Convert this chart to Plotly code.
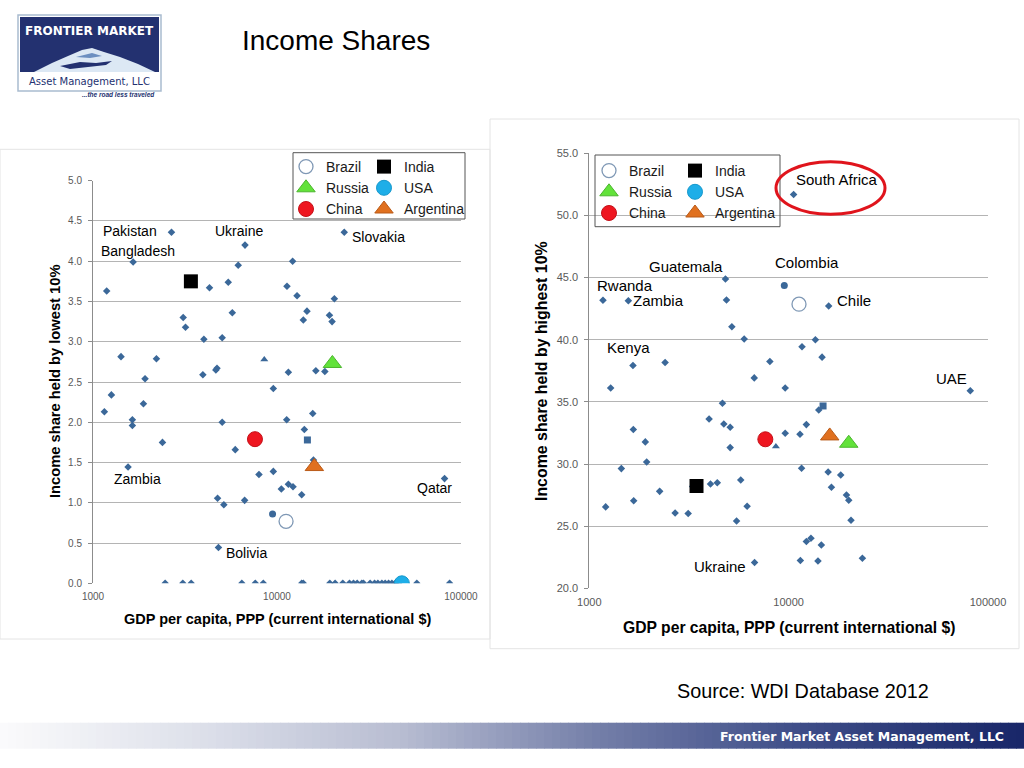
import math
import plotly.graph_objects as go

W, H = 1024, 768
FONT = "Liberation Sans"

# ---------------- DATA ----------------
# Left chart: income share held by lowest 10%
left_other_gdp = [1187, 4297, 5433, 6155, 12160, 11330, 12850, 20500, 14550, 13900, 19280, 19920,
                  5716, 3092, 3183, 4005, 5036, 1420, 2212, 1918, 3955, 4653, 4720, 11530, 16260,
                  18200, 1259, 1153, 1880, 1637, 1637, 2385, 9550, 5036, 11290, 15640, 14080, 5930,
                  15780, 7980, 9550, 10560, 11530, 12220, 13620, 4753, 5142, 6670,
                  2467, 3076, 3417, 6440, 7620, 8425, 13620, 13900, 19360, 20700, 22780, 24770,
                  26040, 27270, 28900, 29520, 32080, 33900, 35330, 37150, 38730, 40390, 42100,
                  43900, 45780, 57540, 86700]
left_other_low = [3.63, 3.67, 3.74, 3.95, 4.00, 3.69, 3.57, 3.535, 3.38, 3.27, 3.33, 3.25,
                  3.36, 3.30, 3.18, 3.03, 3.05, 2.815, 2.79, 2.54, 2.59, 2.65, 2.67, 2.62, 2.64,
                  2.63, 2.34, 2.13, 2.23, 2.03, 1.96, 1.75, 2.42, 2.00, 2.03, 2.11, 1.91, 1.66,
                  1.53, 1.35, 1.39, 1.17, 1.23, 1.20, 1.10, 1.055, 0.976, 1.03,
                  0.0, 0.0, 0.0, 0.0, 0.0, 0.0, 0.0, 0.0, 0.0, 0.0, 0.0, 0.0,
                  0.0, 0.0, 0.0, 0.0, 0.0, 0.0, 0.0, 0.0, 0.0, 0.0, 0.0,
                  0.0, 0.0, 0.0, 0.0]
left_named = ["Pakistan", "Bangladesh", "Ukraine", "Slovakia", "Zambia", "Qatar", "Bolivia"]
left_named_gdp = [2670, 1652, 6700, 23200, 1551, 81400, 4807]
left_named_low = [4.36, 3.99, 4.20, 4.36, 1.445, 1.30, 0.444]
left_extra_tri_gdp, left_extra_tri_low = [8530], [2.78]
left_extra_sq_gdp, left_extra_sq_low = [14630], [1.78]
left_extra_circ_gdp, left_extra_circ_low = [9460], [0.86]

# Right chart: income share held by highest 10%
right_other_gdp = [4877, 5190, 5985, 13620, 11670, 14710, 2400, 8050, 6720, 1280, 9610, 4656,
                   14160, 3990, 4730, 5090, 12270, 9610, 11400, 5090, 1663, 1910, 1940, 1448,
                   11610, 15780, 18250, 16390, 19500, 20020, 20550, 5750, 4385, 4055, 3300, 2254,
                   1670, 1208, 2695, 3133, 6190, 5480, 12940, 12270, 14590, 11450, 14030, 23440]
right_other_high = [43.2, 41.05, 40.06, 40.0, 39.44, 38.6, 38.17, 38.25, 36.93, 36.12, 36.12, 34.89,
                    34.35, 33.63, 33.22, 32.96, 33.17, 32.47, 32.39, 31.32, 32.77, 31.78, 30.17, 29.63,
                    29.66, 29.36, 29.12, 28.13, 27.51, 27.08, 25.47, 28.72, 28.5, 28.4, 28.2, 27.8,
                    27.05, 26.55, 26.06, 26.01, 26.6, 25.42, 24.02, 23.76, 23.49, 22.23, 22.2, 22.41]
right_named = ["South Africa", "Guatemala", "Rwanda", "Zambia", "Chile", "Kenya", "UAE", "Ukraine"]
right_named_gdp = [10590, 4820, 1171, 1570, 15880, 1656, 81500, 6745]
right_named_high = [51.69, 44.88, 43.18, 43.13, 42.72, 37.93, 35.9, 22.07]
right_colombia_gdp, right_colombia_high = [9510], [44.36]
right_extra_tri_gdp, right_extra_tri_high = [8630], [31.4]
right_extra_sq_gdp, right_extra_sq_high = [14880], [34.67]

# Highlighted countries (GDP, left value, right value)
hl_names = ["Brazil", "Russia", "China", "India", "USA", "Argentina"]
hl_gdp_left = [11200, 20000, 7590, 3404, 47700, 15960]
hl_low = [0.77, 2.73, 1.79, 3.75, 0.0, 1.45]
hl_gdp_right = [11270, 20020, 7640, 3450, None, 16070]
hl_high = [42.86, 31.67, 31.99, 28.23, None, 32.26]

x_tickvals = [1000, 10000, 100000]
x_ticktext = ["1000", "10000", "100000"]

# ---------------- STYLE ----------------
DIAM = "#3B6899"
hl_style = {
    "Brazil": dict(symbol="circle", color="white", line=dict(color="#7F98B5", width=1.3), size=14),
    "Russia": dict(symbol="triangle-up", color="#62E23A", line=dict(color="#4BB52E", width=1), size=16),
    "China": dict(symbol="circle", color="#EE1620", line=dict(color="#C41018", width=1), size=15),
    "India": dict(symbol="square", color="black", line=dict(color="black", width=0), size=14),
    "USA": dict(symbol="circle", color="#1EAEE8", line=dict(color="#1698CC", width=1), size=15),
    "Argentina": dict(symbol="triangle-up", color="#E0701F", line=dict(color="#B95A18", width=1), size=16),
}
legend_col = {"Brazil": 0, "Russia": 0, "China": 0, "India": 1, "USA": 1, "Argentina": 1}

def px(x):
    return x / W

def py(y):
    return 1 - y / H

fig = go.Figure()

def pts(x, y, sym, size, xa, ya):
    fig.add_trace(go.Scatter(x=x, y=y, mode="markers",
                             marker=dict(symbol=sym, size=size, color=DIAM, line=dict(width=0)),
                             showlegend=False, xaxis=xa, yaxis=ya))

pts(left_other_gdp, left_other_low, "diamond", 5.8, "x", "y")
pts(left_named_gdp, left_named_low, "diamond", 5.8, "x", "y")
pts(left_extra_tri_gdp, left_extra_tri_low, "triangle-up", 7, "x", "y")
pts(left_extra_sq_gdp, left_extra_sq_low, "square", 7, "x", "y")
pts(left_extra_circ_gdp, left_extra_circ_low, "circle", 7, "x", "y")
for i, n in enumerate(hl_names):
    st = hl_style[n]
    fig.add_trace(go.Scatter(x=[hl_gdp_left[i]], y=[hl_low[i]], mode="markers", name=n,
                             marker=dict(symbol=st["symbol"], size=st["size"], color=st["color"], line=st["line"]),
                             legend="legend" if legend_col[n] == 0 else "legend2",
                             xaxis="x", yaxis="y"))

pts(right_other_gdp, right_other_high, "diamond", 5.8, "x2", "y2")
pts(right_named_gdp, right_named_high, "diamond", 5.8, "x2", "y2")
pts(right_colombia_gdp, right_colombia_high, "circle", 7, "x2", "y2")
pts(right_extra_tri_gdp, right_extra_tri_high, "triangle-up", 7, "x2", "y2")
pts(right_extra_sq_gdp, right_extra_sq_high, "square", 7, "x2", "y2")
for i, n in enumerate(hl_names):
    st = hl_style[n]
    fig.add_trace(go.Scatter(x=[hl_gdp_right[i]], y=[hl_high[i]], mode="markers", name=n,
                             marker=dict(symbol=st["symbol"], size=st["size"], color=st["color"], line=st["line"]),
                             legend="legend3" if legend_col[n] == 0 else "legend4",
                             xaxis="x2", yaxis="y2"))

# ---------------- AXES ----------------
GRID = "#B4B4B4"
AXL = "#8C8C8C"
TICKC = "#595959"

def xax(domain, fs):
    return dict(type="log", range=[3, 5], domain=domain, tickvals=x_tickvals, ticktext=x_ticktext,
                showgrid=False, showline=False, zeroline=False, ticks="", automargin=False,
                tickfont=dict(family=FONT, size=fs, color=TICKC), ticklabelstandoff=6, fixedrange=True)

def yax(domain, rng, dt, fs, anchor):
    return dict(range=rng, domain=domain, dtick=dt, tickformat=".1f", showgrid=True, gridcolor=GRID,
                gridwidth=1, showline=True, linecolor=AXL, linewidth=1, ticks="outside", ticklen=4,
                tickcolor=AXL, zeroline=False, anchor=anchor, automargin=False,
                tickfont=dict(family=FONT, size=fs, color=TICKC), ticklabelstandoff=4, fixedrange=True)

fig.update_layout(
    xaxis=dict(**xax([px(93), px(461)], 10), anchor="y"),
    yaxis=yax([py(583.3), py(180.7)], [0, 5], 0.5, 10, "x"),
    xaxis2=dict(**xax([px(589.3), px(988)], 11), anchor="y2"),
    yaxis2=yax([py(588.3), py(153.3)], [20, 55], 5, 11, "x2"),
)

# ---------------- LEGENDS ----------------
def leg(xp, yp):
    return dict(x=px(xp), y=py(yp), xanchor="left", yanchor="top", bgcolor="rgba(0,0,0,0)",
                borderwidth=0, font=dict(family=FONT, size=14, color="#1a1a1a"),
                itemwidth=30, tracegroupgap=0, itemclick=False, itemdoubleclick=False)

fig.update_layout(legend=leg(286, 151), legend2=leg(364, 151),
                  legend3=leg(589, 155), legend4=leg(675, 155))

# ---------------- SHAPES ----------------
shapes = []
shapes.append(dict(type="rect", xref="paper", yref="paper", x0=px(0), x1=px(490), y0=py(639), y1=py(149.3),
                   line=dict(color="#E4E4E4", width=1), layer="below"))
shapes.append(dict(type="rect", xref="paper", yref="paper", x0=px(490), x1=px(1019), y0=py(648.7), y1=py(119),
                   line=dict(color="#E4E4E4", width=1), layer="below"))
shapes.append(dict(type="rect", xref="paper", yref="paper", x0=px(293), x1=px(465), y0=py(219), y1=py(152.7),
                   line=dict(color="#555555", width=1)))
shapes.append(dict(type="rect", xref="paper", yref="paper", x0=px(595), x1=px(780), y0=py(226.7), y1=py(155),
                   line=dict(color="#555555", width=1)))
shapes.append(dict(type="circle", xref="paper", yref="paper", x0=px(776), x1=px(885), y0=py(214.3), y1=py(161.7),
                   line=dict(color="#E0141C", width=3)))

stops = [(0, (251, 251, 252)), (200, (221, 224, 234)), (400, (184, 189, 210)), (600, (115, 126, 168)),
         (800, (62, 77, 136)), (1024, (24, 38, 104))]

def col_at(x):
    for (x0, c0), (x1, c1) in zip(stops[:-1], stops[1:]):
        if x0 <= x <= x1:
            t = (x - x0) / (x1 - x0)
            return "rgb(%d,%d,%d)" % tuple(round(a + (b - a) * t) for a, b in zip(c0, c1))
    return "rgb(%d,%d,%d)" % stops[-1][1]

nstrip = 128
for i in range(nstrip):
    x0 = i * W / nstrip
    x1 = (i + 1) * W / nstrip + 0.6
    shapes.append(dict(type="rect", xref="paper", yref="paper", x0=px(x0), x1=px(min(x1, W)),
                       y0=py(748.7), y1=py(722.7), line=dict(width=0),
                       fillcolor=col_at((x0 + x1) / 2), layer="below"))

NAVY = "#233170"
shapes.append(dict(type="rect", xref="paper", yref="paper", x0=px(18), x1=px(161), y0=py(91), y1=py(15),
                   line=dict(color="#A9BCD0", width=1.5), fillcolor="white"))
shapes.append(dict(type="rect", xref="paper", yref="paper", x0=px(20), x1=px(159), y0=py(72), y1=py(17),
                   line=dict(width=0), fillcolor=NAVY))

def path(p):
    return "M " + " L ".join("%f,%f" % (px(a), py(b)) for a, b in p) + " Z"

shapes.append(dict(type="path", xref="paper", yref="paper",
                   path=path([(34, 72), (52, 63), (68, 56), (82, 50), (92, 48), (104, 52), (120, 57),
                              (138, 64), (155, 72)]),
                   line=dict(width=0), fillcolor="#DCE8F4"))
shapes.append(dict(type="path", xref="paper", yref="paper",
                   path=path([(60, 66), (80, 62), (96, 63), (112, 61), (106, 65), (88, 67), (70, 69)]),
                   line=dict(width=0), fillcolor=NAVY))
shapes.append(dict(type="path", xref="paper", yref="paper",
                   path=path([(76, 57), (92, 53), (102, 56), (90, 58)]),
                   line=dict(width=0), fillcolor="#6C8FC0"))

fig.update_layout(shapes=shapes)

# ---------------- ANNOTATIONS ----------------
ann = []

def text(x, y, t, size, color="black", bold=False, xanchor="center", family=FONT, italic=False, angle=0):
    s = t
    if bold:
        s = "<b>%s</b>" % s
    if italic:
        s = "<i>%s</i>" % s
    ann.append(dict(x=px(x), y=py(y), xref="paper", yref="paper", text=s, showarrow=False,
                    xanchor=xanchor, yanchor="middle", textangle=angle,
                    font=dict(family=family, size=size, color=color)))

text(240, 40, "Income Shares", 28, "black", xanchor="left")
text(675, 691, "Source: WDI Database 2012", 19.8, "black", xanchor="left")
text(1006, 736, "Frontier Market Asset Management, LLC", 12.5, "white", bold=True, xanchor="right",
     family="DejaVu Sans")
text(89.5, 31, "FRONTIER MARKET", 12, "white", bold=True, family="DejaVu Sans")
text(89.5, 81, "Asset Management, LLC", 10, NAVY, family="DejaVu Sans")
text(157, 95, "...the road less traveled", 6.5, NAVY, italic=True, xanchor="right", bold=True)

text(277, 619, "GDP per capita, PPP (current international $)", 14.5, "black", bold=True)
text(789, 627, "GDP per capita, PPP (current international $)", 15.7, "black", bold=True)
text(55, 382, "Income share held by lowest 10%", 14.7, "black", bold=True, angle=-90)
text(541, 371, "Income share held by highest 10%", 15.9, "black", bold=True, angle=-90)

left_label_off = {"Pakistan": ("right", -12, 1), "Bangladesh": ("center", 5, 11),
                  "Ukraine": ("center", -6, 14), "Slovakia": ("left", 6, -5),
                  "Zambia": ("center", 9, -12), "Qatar": ("center", -10, -9),
                  "Bolivia": ("left", 6, -5)}
for n, g, v in zip(left_named, left_named_gdp, left_named_low):
    xa, dx, dy = left_label_off[n]
    ann.append(dict(x=math.log10(g), y=v, xref="x", yref="y", text=n, showarrow=False,
                    xanchor=xa, yanchor="middle", xshift=dx, yshift=dy,
                    font=dict(family=FONT, size=14, color="black")))

right_label_off = {"South Africa": ("left", 0, 15), "Guatemala": ("right", 0, 13),
                   "Rwanda": ("center", 22, 15),
                   "Zambia": ("left", 3, 0), "Chile": ("left", 6, 5), "Kenya": ("center", -4, 18),
                   "UAE": ("right", -1, 12), "Ukraine": ("right", -7, -4)}
for n, g, v in zip(right_named, right_named_gdp, right_named_high):
    xa, dx, dy = right_label_off[n]
    ann.append(dict(x=math.log10(g), y=v, xref="x2", yref="y2", text=n, showarrow=False,
                    xanchor=xa, yanchor="middle", xshift=dx, yshift=dy,
                    font=dict(family=FONT, size=15, color="black")))
ann.append(dict(x=math.log10(right_colombia_gdp[0]), y=right_colombia_high[0], xref="x2", yref="y2",
                text="Colombia", showarrow=False, xanchor="center", yanchor="middle", xshift=23, yshift=23,
                font=dict(family=FONT, size=15, color="black")))

fig.update_layout(annotations=ann)

fig.update_layout(width=W, height=H, margin=dict(l=0, r=0, t=0, b=0, pad=0, autoexpand=False),
                  paper_bgcolor="white", plot_bgcolor="white", hovermode=False,
                  font=dict(family=FONT))

fig.write_html("out.html", config={"displayModeBar": False},
               post_script="document.body.style.margin='0px';document.body.style.overflow='hidden';")
